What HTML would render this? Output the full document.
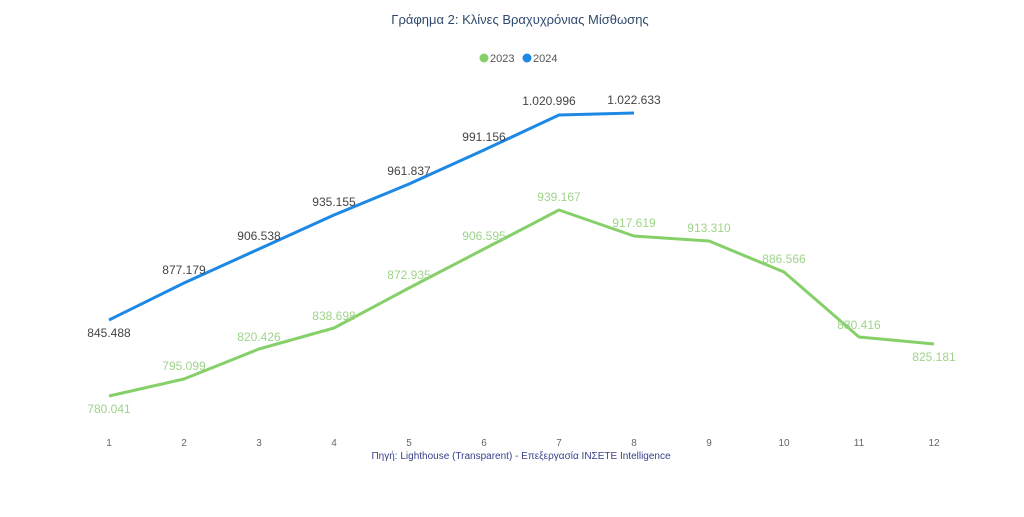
<!DOCTYPE html>
<html><head><meta charset="utf-8"><style>
html,body{margin:0;padding:0;background:#fff;}
svg{display:block;font-family:"Liberation Sans",sans-serif;}
</style></head><body>
<svg width="1024" height="517" viewBox="0 0 1024 517">
<text x="520" y="24" text-anchor="middle" font-size="13" fill="#2e4a6e">Γράφημα 2: Κλίνες Βραχυχρόνιας Μίσθωσης</text>
<circle cx="484" cy="58" r="4.5" fill="#86d06a"/>
<text x="490" y="62" font-size="11" fill="#555">2023</text>
<circle cx="527" cy="58" r="4.5" fill="#1e88e5"/>
<text x="533" y="62" font-size="11" fill="#555">2024</text>
<polyline fill="none" stroke="#1e88e5" stroke-width="3" stroke-linejoin="round" points="109,320 184,283 259,249 334,215 409,184 484,150 559,115 634,113"/>
<polyline fill="none" stroke="#86d06a" stroke-width="3" stroke-linejoin="round" points="109,396 184,379 259,349 334,328 409,288 484,249 559,210 634,236 709,241 784,272 859,337 934,344"/>
<g font-size="12" fill="#444" text-anchor="middle">
<text x="109" y="337">845.488</text>
<text x="184" y="274">877.179</text>
<text x="259" y="240">906.538</text>
<text x="334" y="206">935.155</text>
<text x="409" y="175">961.837</text>
<text x="484" y="141">991.156</text>
<text x="549" y="105">1.020.996</text>
<text x="634" y="104">1.022.633</text>
</g>
<g font-size="12" fill="#9ed48a" text-anchor="middle">
<text x="109" y="413">780.041</text>
<text x="184" y="370">795.099</text>
<text x="259" y="341">820.426</text>
<text x="334" y="320">838.698</text>
<text x="409" y="279">872.935</text>
<text x="484" y="240">906.595</text>
<text x="559" y="201">939.167</text>
<text x="634" y="227">917.619</text>
<text x="709" y="232">913.310</text>
<text x="784" y="263">886.566</text>
<text x="859" y="329">830.416</text>
<text x="934" y="361">825.181</text>
</g>
<g font-size="10" fill="#666" text-anchor="middle">
<text x="109" y="446">1</text><text x="184" y="446">2</text><text x="259" y="446">3</text><text x="334" y="446">4</text><text x="409" y="446">5</text><text x="484" y="446">6</text><text x="559" y="446">7</text><text x="634" y="446">8</text><text x="709" y="446">9</text><text x="784" y="446">10</text><text x="859" y="446">11</text><text x="934" y="446">12</text>
</g>
<text x="521" y="459" text-anchor="middle" font-size="10" fill="#3a3f8a">Πηγή: Lighthouse (Transparent) - Επεξεργασία INΣΕΤΕ Intelligence</text>
</svg>
</body></html>
